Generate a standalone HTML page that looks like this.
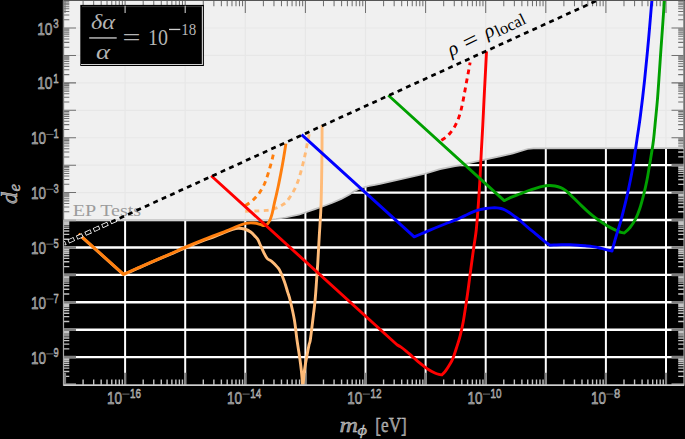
<!DOCTYPE html>
<html><head><meta charset="utf-8"><style>
html,body{margin:0;padding:0;background:#000;width:685px;height:439px;overflow:hidden;}
svg{display:block;font-family:"Liberation Sans",sans-serif;}
</style></head><body>
<svg width="685" height="439" viewBox="0 0 685 439">
<defs>
<clipPath id="cg"><path d="M63.5,0.5 L63.5,220 L268,220 L276,219 L285.6,217.5 L298.8,214.7 L307.5,211.8 L315,209.1 L323.8,206 L332.5,202.8 L341.3,198.9 L350,194.2 L354.4,191.1 L358.8,188.9 L364,187.2 L369.3,185.9 L375,184.9 L380,183.9 L425,173.8 L440,169.2 L460,165.2 L480,160.6 L500,156.3 L513,153.4 L521.8,150.8 L527.6,149 L533.4,148.4 L684,148.2 L684,0.5 Z"/></clipPath>
<clipPath id="cb"><path d="M63.5,385.2 L63.5,220 L268,220 L276,219 L285.6,217.5 L298.8,214.7 L307.5,211.8 L315,209.1 L323.8,206 L332.5,202.8 L341.3,198.9 L350,194.2 L354.4,191.1 L358.8,188.9 L364,187.2 L369.3,185.9 L375,184.9 L380,183.9 L425,173.8 L440,169.2 L460,165.2 L480,160.6 L500,156.3 L513,153.4 L521.8,150.8 L527.6,149 L533.4,148.4 L684,148.2 L684,385.2 Z"/></clipPath>
<clipPath id="cp"><rect x="63.5" y="0.5" width="620.5" height="384.7"/></clipPath>
</defs>
<rect width="685" height="439" fill="#000"/>
<path d="M125.1,0.5 V385.2 M185.2,0.5 V385.2 M245.3,0.5 V385.2 M305.4,0.5 V385.2 M365.5,0.5 V385.2 M425.6,0.5 V385.2 M485.7,0.5 V385.2 M545.8,0.5 V385.2 M605.9,0.5 V385.2 M666,0.5 V385.2" stroke="#fff" stroke-width="2" fill="none"/>
<path d="M63.5,357.17 H684 M63.5,329.74 H684 M63.5,302.31 H684 M63.5,274.88 H684 M63.5,247.45 H684 M63.5,220.02 H684 M63.5,192.59 H684 M63.5,165.16 H684 M63.5,137.73 H684 M63.5,110.3 H684 M63.5,82.87 H684 M63.5,55.44 H684 M63.5,28.01 H684" stroke="#fff" stroke-width="2.4" fill="none"/>
<g clip-path="url(#cb)" fill="none">
<path d="M83.09,385.2 V379.4 M83.09,0.5 V6.3 M93.67,385.2 V379.4 M93.67,0.5 V6.3 M101.18,385.2 V379.4 M101.18,0.5 V6.3 M107.01,385.2 V379.4 M107.01,0.5 V6.3 M111.77,385.2 V379.4 M111.77,0.5 V6.3 M115.79,385.2 V379.4 M115.79,0.5 V6.3 M119.28,385.2 V379.4 M119.28,0.5 V6.3 M122.35,385.2 V379.4 M122.35,0.5 V6.3 M143.19,385.2 V379.4 M143.19,0.5 V6.3 M153.77,385.2 V379.4 M153.77,0.5 V6.3 M161.28,385.2 V379.4 M161.28,0.5 V6.3 M167.11,385.2 V379.4 M167.11,0.5 V6.3 M171.87,385.2 V379.4 M171.87,0.5 V6.3 M175.89,385.2 V379.4 M175.89,0.5 V6.3 M179.38,385.2 V379.4 M179.38,0.5 V6.3 M182.45,385.2 V379.4 M182.45,0.5 V6.3 M203.29,385.2 V379.4 M203.29,0.5 V6.3 M213.87,385.2 V379.4 M213.87,0.5 V6.3 M221.38,385.2 V379.4 M221.38,0.5 V6.3 M227.21,385.2 V379.4 M227.21,0.5 V6.3 M231.97,385.2 V379.4 M231.97,0.5 V6.3 M235.99,385.2 V379.4 M235.99,0.5 V6.3 M239.48,385.2 V379.4 M239.48,0.5 V6.3 M242.55,385.2 V379.4 M242.55,0.5 V6.3 M263.39,385.2 V379.4 M263.39,0.5 V6.3 M273.97,385.2 V379.4 M273.97,0.5 V6.3 M281.48,385.2 V379.4 M281.48,0.5 V6.3 M287.31,385.2 V379.4 M287.31,0.5 V6.3 M292.07,385.2 V379.4 M292.07,0.5 V6.3 M296.09,385.2 V379.4 M296.09,0.5 V6.3 M299.58,385.2 V379.4 M299.58,0.5 V6.3 M302.65,385.2 V379.4 M302.65,0.5 V6.3 M323.49,385.2 V379.4 M323.49,0.5 V6.3 M334.07,385.2 V379.4 M334.07,0.5 V6.3 M341.58,385.2 V379.4 M341.58,0.5 V6.3 M347.41,385.2 V379.4 M347.41,0.5 V6.3 M352.17,385.2 V379.4 M352.17,0.5 V6.3 M356.19,385.2 V379.4 M356.19,0.5 V6.3 M359.68,385.2 V379.4 M359.68,0.5 V6.3 M362.75,385.2 V379.4 M362.75,0.5 V6.3 M383.59,385.2 V379.4 M383.59,0.5 V6.3 M394.17,385.2 V379.4 M394.17,0.5 V6.3 M401.68,385.2 V379.4 M401.68,0.5 V6.3 M407.51,385.2 V379.4 M407.51,0.5 V6.3 M412.27,385.2 V379.4 M412.27,0.5 V6.3 M416.29,385.2 V379.4 M416.29,0.5 V6.3 M419.78,385.2 V379.4 M419.78,0.5 V6.3 M422.85,385.2 V379.4 M422.85,0.5 V6.3 M443.69,385.2 V379.4 M443.69,0.5 V6.3 M454.27,385.2 V379.4 M454.27,0.5 V6.3 M461.78,385.2 V379.4 M461.78,0.5 V6.3 M467.61,385.2 V379.4 M467.61,0.5 V6.3 M472.37,385.2 V379.4 M472.37,0.5 V6.3 M476.39,385.2 V379.4 M476.39,0.5 V6.3 M479.88,385.2 V379.4 M479.88,0.5 V6.3 M482.95,385.2 V379.4 M482.95,0.5 V6.3 M503.79,385.2 V379.4 M503.79,0.5 V6.3 M514.37,385.2 V379.4 M514.37,0.5 V6.3 M521.88,385.2 V379.4 M521.88,0.5 V6.3 M527.71,385.2 V379.4 M527.71,0.5 V6.3 M532.47,385.2 V379.4 M532.47,0.5 V6.3 M536.49,385.2 V379.4 M536.49,0.5 V6.3 M539.98,385.2 V379.4 M539.98,0.5 V6.3 M543.05,385.2 V379.4 M543.05,0.5 V6.3 M563.89,385.2 V379.4 M563.89,0.5 V6.3 M574.47,385.2 V379.4 M574.47,0.5 V6.3 M581.98,385.2 V379.4 M581.98,0.5 V6.3 M587.81,385.2 V379.4 M587.81,0.5 V6.3 M592.57,385.2 V379.4 M592.57,0.5 V6.3 M596.59,385.2 V379.4 M596.59,0.5 V6.3 M600.08,385.2 V379.4 M600.08,0.5 V6.3 M603.15,385.2 V379.4 M603.15,0.5 V6.3 M623.99,385.2 V379.4 M623.99,0.5 V6.3 M634.57,385.2 V379.4 M634.57,0.5 V6.3 M642.08,385.2 V379.4 M642.08,0.5 V6.3 M647.91,385.2 V379.4 M647.91,0.5 V6.3 M652.67,385.2 V379.4 M652.67,0.5 V6.3 M656.69,385.2 V379.4 M656.69,0.5 V6.3 M660.18,385.2 V379.4 M660.18,0.5 V6.3 M663.25,385.2 V379.4 M663.25,0.5 V6.3 M63.5,376.34 H69.3 M684,376.34 H678.2 M63.5,371.51 H69.3 M684,371.51 H678.2 M63.5,368.09 H69.3 M684,368.09 H678.2 M63.5,365.43 H69.3 M684,365.43 H678.2 M63.5,363.26 H69.3 M684,363.26 H678.2 M63.5,361.42 H69.3 M684,361.42 H678.2 M63.5,359.83 H69.3 M684,359.83 H678.2 M63.5,358.43 H69.3 M684,358.43 H678.2 M63.5,348.91 H69.3 M684,348.91 H678.2 M63.5,344.08 H69.3 M684,344.08 H678.2 M63.5,340.66 H69.3 M684,340.66 H678.2 M63.5,338 H69.3 M684,338 H678.2 M63.5,335.83 H69.3 M684,335.83 H678.2 M63.5,333.99 H69.3 M684,333.99 H678.2 M63.5,332.4 H69.3 M684,332.4 H678.2 M63.5,331 H69.3 M684,331 H678.2 M63.5,321.48 H69.3 M684,321.48 H678.2 M63.5,316.65 H69.3 M684,316.65 H678.2 M63.5,313.23 H69.3 M684,313.23 H678.2 M63.5,310.57 H69.3 M684,310.57 H678.2 M63.5,308.4 H69.3 M684,308.4 H678.2 M63.5,306.56 H69.3 M684,306.56 H678.2 M63.5,304.97 H69.3 M684,304.97 H678.2 M63.5,303.57 H69.3 M684,303.57 H678.2 M63.5,294.05 H69.3 M684,294.05 H678.2 M63.5,289.22 H69.3 M684,289.22 H678.2 M63.5,285.8 H69.3 M684,285.8 H678.2 M63.5,283.14 H69.3 M684,283.14 H678.2 M63.5,280.97 H69.3 M684,280.97 H678.2 M63.5,279.13 H69.3 M684,279.13 H678.2 M63.5,277.54 H69.3 M684,277.54 H678.2 M63.5,276.14 H69.3 M684,276.14 H678.2 M63.5,266.62 H69.3 M684,266.62 H678.2 M63.5,261.79 H69.3 M684,261.79 H678.2 M63.5,258.37 H69.3 M684,258.37 H678.2 M63.5,255.71 H69.3 M684,255.71 H678.2 M63.5,253.54 H69.3 M684,253.54 H678.2 M63.5,251.7 H69.3 M684,251.7 H678.2 M63.5,250.11 H69.3 M684,250.11 H678.2 M63.5,248.71 H69.3 M684,248.71 H678.2 M63.5,239.19 H69.3 M684,239.19 H678.2 M63.5,234.36 H69.3 M684,234.36 H678.2 M63.5,230.94 H69.3 M684,230.94 H678.2 M63.5,228.28 H69.3 M684,228.28 H678.2 M63.5,226.11 H69.3 M684,226.11 H678.2 M63.5,224.27 H69.3 M684,224.27 H678.2 M63.5,222.68 H69.3 M684,222.68 H678.2 M63.5,221.28 H69.3 M684,221.28 H678.2 M63.5,211.76 H69.3 M684,211.76 H678.2 M63.5,206.93 H69.3 M684,206.93 H678.2 M63.5,203.51 H69.3 M684,203.51 H678.2 M63.5,200.85 H69.3 M684,200.85 H678.2 M63.5,198.68 H69.3 M684,198.68 H678.2 M63.5,196.84 H69.3 M684,196.84 H678.2 M63.5,195.25 H69.3 M684,195.25 H678.2 M63.5,193.85 H69.3 M684,193.85 H678.2 M63.5,184.33 H69.3 M684,184.33 H678.2 M63.5,179.5 H69.3 M684,179.5 H678.2 M63.5,176.08 H69.3 M684,176.08 H678.2 M63.5,173.42 H69.3 M684,173.42 H678.2 M63.5,171.25 H69.3 M684,171.25 H678.2 M63.5,169.41 H69.3 M684,169.41 H678.2 M63.5,167.82 H69.3 M684,167.82 H678.2 M63.5,166.42 H69.3 M684,166.42 H678.2 M63.5,156.9 H69.3 M684,156.9 H678.2 M63.5,152.07 H69.3 M684,152.07 H678.2 M63.5,148.65 H69.3 M684,148.65 H678.2 M63.5,145.99 H69.3 M684,145.99 H678.2 M63.5,143.82 H69.3 M684,143.82 H678.2 M63.5,141.98 H69.3 M684,141.98 H678.2 M63.5,140.39 H69.3 M684,140.39 H678.2 M63.5,138.99 H69.3 M684,138.99 H678.2 M63.5,129.47 H69.3 M684,129.47 H678.2 M63.5,124.64 H69.3 M684,124.64 H678.2 M63.5,121.22 H69.3 M684,121.22 H678.2 M63.5,118.56 H69.3 M684,118.56 H678.2 M63.5,116.39 H69.3 M684,116.39 H678.2 M63.5,114.55 H69.3 M684,114.55 H678.2 M63.5,112.96 H69.3 M684,112.96 H678.2 M63.5,111.56 H69.3 M684,111.56 H678.2 M63.5,102.04 H69.3 M684,102.04 H678.2 M63.5,97.21 H69.3 M684,97.21 H678.2 M63.5,93.79 H69.3 M684,93.79 H678.2 M63.5,91.13 H69.3 M684,91.13 H678.2 M63.5,88.96 H69.3 M684,88.96 H678.2 M63.5,87.12 H69.3 M684,87.12 H678.2 M63.5,85.53 H69.3 M684,85.53 H678.2 M63.5,84.13 H69.3 M684,84.13 H678.2 M63.5,74.61 H69.3 M684,74.61 H678.2 M63.5,69.78 H69.3 M684,69.78 H678.2 M63.5,66.36 H69.3 M684,66.36 H678.2 M63.5,63.7 H69.3 M684,63.7 H678.2 M63.5,61.53 H69.3 M684,61.53 H678.2 M63.5,59.69 H69.3 M684,59.69 H678.2 M63.5,58.1 H69.3 M684,58.1 H678.2 M63.5,56.7 H69.3 M684,56.7 H678.2 M63.5,47.18 H69.3 M684,47.18 H678.2 M63.5,42.35 H69.3 M684,42.35 H678.2 M63.5,38.93 H69.3 M684,38.93 H678.2 M63.5,36.27 H69.3 M684,36.27 H678.2 M63.5,34.1 H69.3 M684,34.1 H678.2 M63.5,32.26 H69.3 M684,32.26 H678.2 M63.5,30.67 H69.3 M684,30.67 H678.2 M63.5,29.27 H69.3 M684,29.27 H678.2 M63.5,19.75 H69.3 M684,19.75 H678.2 M63.5,14.92 H69.3 M684,14.92 H678.2 M63.5,11.5 H69.3 M684,11.5 H678.2 M63.5,8.84 H69.3 M684,8.84 H678.2 M63.5,6.67 H69.3 M684,6.67 H678.2 M63.5,4.83 H69.3 M684,4.83 H678.2 M63.5,3.24 H69.3 M684,3.24 H678.2 M63.5,1.84 H69.3 M684,1.84 H678.2" stroke="#c4c4c4" stroke-width="1.4"/>
<path d="M65,385.2 V372.7 M65,0.5 V13 M125.1,385.2 V372.7 M125.1,0.5 V13 M185.2,385.2 V372.7 M185.2,0.5 V13 M245.3,385.2 V372.7 M245.3,0.5 V13 M305.4,385.2 V372.7 M305.4,0.5 V13 M365.5,385.2 V372.7 M365.5,0.5 V13 M425.6,385.2 V372.7 M425.6,0.5 V13 M485.7,385.2 V372.7 M485.7,0.5 V13 M545.8,385.2 V372.7 M545.8,0.5 V13 M605.9,385.2 V372.7 M605.9,0.5 V13 M666,385.2 V372.7 M666,0.5 V13" stroke="#808080" stroke-width="2.2"/>
<path d="M63.5,384.6 H76 M684,384.6 H671.5 M63.5,357.17 H76 M684,357.17 H671.5 M63.5,329.74 H76 M684,329.74 H671.5 M63.5,302.31 H76 M684,302.31 H671.5 M63.5,274.88 H76 M684,274.88 H671.5 M63.5,247.45 H76 M684,247.45 H671.5 M63.5,220.02 H76 M684,220.02 H671.5 M63.5,192.59 H76 M684,192.59 H671.5 M63.5,165.16 H76 M684,165.16 H671.5 M63.5,137.73 H76 M684,137.73 H671.5 M63.5,110.3 H76 M684,110.3 H671.5 M63.5,82.87 H76 M684,82.87 H671.5 M63.5,55.44 H76 M684,55.44 H671.5 M63.5,28.01 H76 M684,28.01 H671.5 M63.5,0.58 H76 M684,0.58 H671.5" stroke="#808080" stroke-width="2.6"/>
</g>
<path d="M63.5,0.5 L63.5,220 L268,220 L276,219 L285.6,217.5 L298.8,214.7 L307.5,211.8 L315,209.1 L323.8,206 L332.5,202.8 L341.3,198.9 L350,194.2 L354.4,191.1 L358.8,188.9 L364,187.2 L369.3,185.9 L375,184.9 L380,183.9 L425,173.8 L440,169.2 L460,165.2 L480,160.6 L500,156.3 L513,153.4 L521.8,150.8 L527.6,149 L533.4,148.4 L684,148.2 L684,0.5 Z" fill="#f0f0f0"/>
<g clip-path="url(#cg)">
<path d="M125.1,0.5 V385.2 M185.2,0.5 V385.2 M245.3,0.5 V385.2 M305.4,0.5 V385.2 M365.5,0.5 V385.2 M425.6,0.5 V385.2 M485.7,0.5 V385.2 M545.8,0.5 V385.2 M605.9,0.5 V385.2 M666,0.5 V385.2 M63.5,357.17 H684 M63.5,329.74 H684 M63.5,302.31 H684 M63.5,274.88 H684 M63.5,247.45 H684 M63.5,220.02 H684 M63.5,192.59 H684 M63.5,165.16 H684 M63.5,137.73 H684 M63.5,110.3 H684 M63.5,82.87 H684 M63.5,55.44 H684 M63.5,28.01 H684" stroke="#e7e7e7" stroke-width="1.2" fill="none"/>
<path d="M65,385.2 V372.7 M65,0.5 V13 M125.1,385.2 V372.7 M125.1,0.5 V13 M185.2,385.2 V372.7 M185.2,0.5 V13 M245.3,385.2 V372.7 M245.3,0.5 V13 M305.4,385.2 V372.7 M305.4,0.5 V13 M365.5,385.2 V372.7 M365.5,0.5 V13 M425.6,385.2 V372.7 M425.6,0.5 V13 M485.7,385.2 V372.7 M485.7,0.5 V13 M545.8,385.2 V372.7 M545.8,0.5 V13 M605.9,385.2 V372.7 M605.9,0.5 V13 M666,385.2 V372.7 M666,0.5 V13 M83.09,385.2 V379.4 M83.09,0.5 V6.3 M93.67,385.2 V379.4 M93.67,0.5 V6.3 M101.18,385.2 V379.4 M101.18,0.5 V6.3 M107.01,385.2 V379.4 M107.01,0.5 V6.3 M111.77,385.2 V379.4 M111.77,0.5 V6.3 M115.79,385.2 V379.4 M115.79,0.5 V6.3 M119.28,385.2 V379.4 M119.28,0.5 V6.3 M122.35,385.2 V379.4 M122.35,0.5 V6.3 M143.19,385.2 V379.4 M143.19,0.5 V6.3 M153.77,385.2 V379.4 M153.77,0.5 V6.3 M161.28,385.2 V379.4 M161.28,0.5 V6.3 M167.11,385.2 V379.4 M167.11,0.5 V6.3 M171.87,385.2 V379.4 M171.87,0.5 V6.3 M175.89,385.2 V379.4 M175.89,0.5 V6.3 M179.38,385.2 V379.4 M179.38,0.5 V6.3 M182.45,385.2 V379.4 M182.45,0.5 V6.3 M203.29,385.2 V379.4 M203.29,0.5 V6.3 M213.87,385.2 V379.4 M213.87,0.5 V6.3 M221.38,385.2 V379.4 M221.38,0.5 V6.3 M227.21,385.2 V379.4 M227.21,0.5 V6.3 M231.97,385.2 V379.4 M231.97,0.5 V6.3 M235.99,385.2 V379.4 M235.99,0.5 V6.3 M239.48,385.2 V379.4 M239.48,0.5 V6.3 M242.55,385.2 V379.4 M242.55,0.5 V6.3 M263.39,385.2 V379.4 M263.39,0.5 V6.3 M273.97,385.2 V379.4 M273.97,0.5 V6.3 M281.48,385.2 V379.4 M281.48,0.5 V6.3 M287.31,385.2 V379.4 M287.31,0.5 V6.3 M292.07,385.2 V379.4 M292.07,0.5 V6.3 M296.09,385.2 V379.4 M296.09,0.5 V6.3 M299.58,385.2 V379.4 M299.58,0.5 V6.3 M302.65,385.2 V379.4 M302.65,0.5 V6.3 M323.49,385.2 V379.4 M323.49,0.5 V6.3 M334.07,385.2 V379.4 M334.07,0.5 V6.3 M341.58,385.2 V379.4 M341.58,0.5 V6.3 M347.41,385.2 V379.4 M347.41,0.5 V6.3 M352.17,385.2 V379.4 M352.17,0.5 V6.3 M356.19,385.2 V379.4 M356.19,0.5 V6.3 M359.68,385.2 V379.4 M359.68,0.5 V6.3 M362.75,385.2 V379.4 M362.75,0.5 V6.3 M383.59,385.2 V379.4 M383.59,0.5 V6.3 M394.17,385.2 V379.4 M394.17,0.5 V6.3 M401.68,385.2 V379.4 M401.68,0.5 V6.3 M407.51,385.2 V379.4 M407.51,0.5 V6.3 M412.27,385.2 V379.4 M412.27,0.5 V6.3 M416.29,385.2 V379.4 M416.29,0.5 V6.3 M419.78,385.2 V379.4 M419.78,0.5 V6.3 M422.85,385.2 V379.4 M422.85,0.5 V6.3 M443.69,385.2 V379.4 M443.69,0.5 V6.3 M454.27,385.2 V379.4 M454.27,0.5 V6.3 M461.78,385.2 V379.4 M461.78,0.5 V6.3 M467.61,385.2 V379.4 M467.61,0.5 V6.3 M472.37,385.2 V379.4 M472.37,0.5 V6.3 M476.39,385.2 V379.4 M476.39,0.5 V6.3 M479.88,385.2 V379.4 M479.88,0.5 V6.3 M482.95,385.2 V379.4 M482.95,0.5 V6.3 M503.79,385.2 V379.4 M503.79,0.5 V6.3 M514.37,385.2 V379.4 M514.37,0.5 V6.3 M521.88,385.2 V379.4 M521.88,0.5 V6.3 M527.71,385.2 V379.4 M527.71,0.5 V6.3 M532.47,385.2 V379.4 M532.47,0.5 V6.3 M536.49,385.2 V379.4 M536.49,0.5 V6.3 M539.98,385.2 V379.4 M539.98,0.5 V6.3 M543.05,385.2 V379.4 M543.05,0.5 V6.3 M563.89,385.2 V379.4 M563.89,0.5 V6.3 M574.47,385.2 V379.4 M574.47,0.5 V6.3 M581.98,385.2 V379.4 M581.98,0.5 V6.3 M587.81,385.2 V379.4 M587.81,0.5 V6.3 M592.57,385.2 V379.4 M592.57,0.5 V6.3 M596.59,385.2 V379.4 M596.59,0.5 V6.3 M600.08,385.2 V379.4 M600.08,0.5 V6.3 M603.15,385.2 V379.4 M603.15,0.5 V6.3 M623.99,385.2 V379.4 M623.99,0.5 V6.3 M634.57,385.2 V379.4 M634.57,0.5 V6.3 M642.08,385.2 V379.4 M642.08,0.5 V6.3 M647.91,385.2 V379.4 M647.91,0.5 V6.3 M652.67,385.2 V379.4 M652.67,0.5 V6.3 M656.69,385.2 V379.4 M656.69,0.5 V6.3 M660.18,385.2 V379.4 M660.18,0.5 V6.3 M663.25,385.2 V379.4 M663.25,0.5 V6.3 M63.5,384.6 H76 M684,384.6 H671.5 M63.5,357.17 H76 M684,357.17 H671.5 M63.5,329.74 H76 M684,329.74 H671.5 M63.5,302.31 H76 M684,302.31 H671.5 M63.5,274.88 H76 M684,274.88 H671.5 M63.5,247.45 H76 M684,247.45 H671.5 M63.5,220.02 H76 M684,220.02 H671.5 M63.5,192.59 H76 M684,192.59 H671.5 M63.5,165.16 H76 M684,165.16 H671.5 M63.5,137.73 H76 M684,137.73 H671.5 M63.5,110.3 H76 M684,110.3 H671.5 M63.5,82.87 H76 M684,82.87 H671.5 M63.5,55.44 H76 M684,55.44 H671.5 M63.5,28.01 H76 M684,28.01 H671.5 M63.5,0.58 H76 M684,0.58 H671.5 M63.5,376.34 H69.3 M684,376.34 H678.2 M63.5,371.51 H69.3 M684,371.51 H678.2 M63.5,368.09 H69.3 M684,368.09 H678.2 M63.5,365.43 H69.3 M684,365.43 H678.2 M63.5,363.26 H69.3 M684,363.26 H678.2 M63.5,361.42 H69.3 M684,361.42 H678.2 M63.5,359.83 H69.3 M684,359.83 H678.2 M63.5,358.43 H69.3 M684,358.43 H678.2 M63.5,348.91 H69.3 M684,348.91 H678.2 M63.5,344.08 H69.3 M684,344.08 H678.2 M63.5,340.66 H69.3 M684,340.66 H678.2 M63.5,338 H69.3 M684,338 H678.2 M63.5,335.83 H69.3 M684,335.83 H678.2 M63.5,333.99 H69.3 M684,333.99 H678.2 M63.5,332.4 H69.3 M684,332.4 H678.2 M63.5,331 H69.3 M684,331 H678.2 M63.5,321.48 H69.3 M684,321.48 H678.2 M63.5,316.65 H69.3 M684,316.65 H678.2 M63.5,313.23 H69.3 M684,313.23 H678.2 M63.5,310.57 H69.3 M684,310.57 H678.2 M63.5,308.4 H69.3 M684,308.4 H678.2 M63.5,306.56 H69.3 M684,306.56 H678.2 M63.5,304.97 H69.3 M684,304.97 H678.2 M63.5,303.57 H69.3 M684,303.57 H678.2 M63.5,294.05 H69.3 M684,294.05 H678.2 M63.5,289.22 H69.3 M684,289.22 H678.2 M63.5,285.8 H69.3 M684,285.8 H678.2 M63.5,283.14 H69.3 M684,283.14 H678.2 M63.5,280.97 H69.3 M684,280.97 H678.2 M63.5,279.13 H69.3 M684,279.13 H678.2 M63.5,277.54 H69.3 M684,277.54 H678.2 M63.5,276.14 H69.3 M684,276.14 H678.2 M63.5,266.62 H69.3 M684,266.62 H678.2 M63.5,261.79 H69.3 M684,261.79 H678.2 M63.5,258.37 H69.3 M684,258.37 H678.2 M63.5,255.71 H69.3 M684,255.71 H678.2 M63.5,253.54 H69.3 M684,253.54 H678.2 M63.5,251.7 H69.3 M684,251.7 H678.2 M63.5,250.11 H69.3 M684,250.11 H678.2 M63.5,248.71 H69.3 M684,248.71 H678.2 M63.5,239.19 H69.3 M684,239.19 H678.2 M63.5,234.36 H69.3 M684,234.36 H678.2 M63.5,230.94 H69.3 M684,230.94 H678.2 M63.5,228.28 H69.3 M684,228.28 H678.2 M63.5,226.11 H69.3 M684,226.11 H678.2 M63.5,224.27 H69.3 M684,224.27 H678.2 M63.5,222.68 H69.3 M684,222.68 H678.2 M63.5,221.28 H69.3 M684,221.28 H678.2 M63.5,211.76 H69.3 M684,211.76 H678.2 M63.5,206.93 H69.3 M684,206.93 H678.2 M63.5,203.51 H69.3 M684,203.51 H678.2 M63.5,200.85 H69.3 M684,200.85 H678.2 M63.5,198.68 H69.3 M684,198.68 H678.2 M63.5,196.84 H69.3 M684,196.84 H678.2 M63.5,195.25 H69.3 M684,195.25 H678.2 M63.5,193.85 H69.3 M684,193.85 H678.2 M63.5,184.33 H69.3 M684,184.33 H678.2 M63.5,179.5 H69.3 M684,179.5 H678.2 M63.5,176.08 H69.3 M684,176.08 H678.2 M63.5,173.42 H69.3 M684,173.42 H678.2 M63.5,171.25 H69.3 M684,171.25 H678.2 M63.5,169.41 H69.3 M684,169.41 H678.2 M63.5,167.82 H69.3 M684,167.82 H678.2 M63.5,166.42 H69.3 M684,166.42 H678.2 M63.5,156.9 H69.3 M684,156.9 H678.2 M63.5,152.07 H69.3 M684,152.07 H678.2 M63.5,148.65 H69.3 M684,148.65 H678.2 M63.5,145.99 H69.3 M684,145.99 H678.2 M63.5,143.82 H69.3 M684,143.82 H678.2 M63.5,141.98 H69.3 M684,141.98 H678.2 M63.5,140.39 H69.3 M684,140.39 H678.2 M63.5,138.99 H69.3 M684,138.99 H678.2 M63.5,129.47 H69.3 M684,129.47 H678.2 M63.5,124.64 H69.3 M684,124.64 H678.2 M63.5,121.22 H69.3 M684,121.22 H678.2 M63.5,118.56 H69.3 M684,118.56 H678.2 M63.5,116.39 H69.3 M684,116.39 H678.2 M63.5,114.55 H69.3 M684,114.55 H678.2 M63.5,112.96 H69.3 M684,112.96 H678.2 M63.5,111.56 H69.3 M684,111.56 H678.2 M63.5,102.04 H69.3 M684,102.04 H678.2 M63.5,97.21 H69.3 M684,97.21 H678.2 M63.5,93.79 H69.3 M684,93.79 H678.2 M63.5,91.13 H69.3 M684,91.13 H678.2 M63.5,88.96 H69.3 M684,88.96 H678.2 M63.5,87.12 H69.3 M684,87.12 H678.2 M63.5,85.53 H69.3 M684,85.53 H678.2 M63.5,84.13 H69.3 M684,84.13 H678.2 M63.5,74.61 H69.3 M684,74.61 H678.2 M63.5,69.78 H69.3 M684,69.78 H678.2 M63.5,66.36 H69.3 M684,66.36 H678.2 M63.5,63.7 H69.3 M684,63.7 H678.2 M63.5,61.53 H69.3 M684,61.53 H678.2 M63.5,59.69 H69.3 M684,59.69 H678.2 M63.5,58.1 H69.3 M684,58.1 H678.2 M63.5,56.7 H69.3 M684,56.7 H678.2 M63.5,47.18 H69.3 M684,47.18 H678.2 M63.5,42.35 H69.3 M684,42.35 H678.2 M63.5,38.93 H69.3 M684,38.93 H678.2 M63.5,36.27 H69.3 M684,36.27 H678.2 M63.5,34.1 H69.3 M684,34.1 H678.2 M63.5,32.26 H69.3 M684,32.26 H678.2 M63.5,30.67 H69.3 M684,30.67 H678.2 M63.5,29.27 H69.3 M684,29.27 H678.2 M63.5,19.75 H69.3 M684,19.75 H678.2 M63.5,14.92 H69.3 M684,14.92 H678.2 M63.5,11.5 H69.3 M684,11.5 H678.2 M63.5,8.84 H69.3 M684,8.84 H678.2 M63.5,6.67 H69.3 M684,6.67 H678.2 M63.5,4.83 H69.3 M684,4.83 H678.2 M63.5,3.24 H69.3 M684,3.24 H678.2 M63.5,1.84 H69.3 M684,1.84 H678.2" stroke="#707070" stroke-width="1.05" fill="none"/>
</g>
<path d="M63.5,220 L268,220 L276,219 L285.6,217.5 L298.8,214.7 L307.5,211.8 L315,209.1 L323.8,206 L332.5,202.8 L341.3,198.9 L350,194.2 L354.4,191.1 L358.8,188.9 L364,187.2 L369.3,185.9 L375,184.9 L380,183.9 L425,173.8 L440,169.2 L460,165.2 L480,160.6 L500,156.3 L513,153.4 L521.8,150.8 L527.6,149 L533.4,148.4 L684,148.2" stroke="#c2c2c2" stroke-width="1.7" fill="none"/>
<text x="72.8" y="216.1" font-family="Liberation Serif" font-size="17.5" fill="#9c9c9c" textLength="68.4" lengthAdjust="spacingAndGlyphs">EP Tests</text>
<g clip-path="url(#cp)" fill="none" stroke-linejoin="round">
<path d="M78.6,234.2 L123.6,274.6 L123.6,274.6 C126,273.53 133.6,270.15 138,268.2 C142.4,266.25 144.67,265.2 150,262.9 C155.33,260.6 164.3,256.83 170,254.4 C175.7,251.97 178.37,250.7 184.2,248.3 C190.03,245.9 199.87,241.98 205,240 C210.13,238.02 211.52,237.73 215,236.4 C218.48,235.07 223.07,233.13 225.9,232 C228.73,230.87 229.98,230.23 232,229.6 C234.02,228.97 235.93,228.3 238,228.2 C240.07,228.1 242.28,228.37 244.4,229 C246.52,229.63 248.85,230.7 250.7,232 C252.55,233.3 254.28,235.5 255.5,236.8 C256.72,238.1 257.2,238.43 258,239.8 C258.8,241.17 259.35,242.92 260.3,245 C261.25,247.08 262.57,250.07 263.7,252.3 C264.83,254.53 265.77,256.88 267.1,258.4 C268.43,259.92 269.98,259.95 271.7,261.4 C273.42,262.85 276.08,265.63 277.4,267.1 C278.72,268.57 278.47,267.9 279.6,270.2 C280.73,272.5 282.87,277.28 284.2,280.9 C285.53,284.52 286.6,288.63 287.6,291.9 C288.6,295.17 289.07,295.82 290.2,300.5 C291.33,305.18 293.27,313.42 294.4,320 C295.53,326.58 296.13,333.83 297,340 C297.87,346.17 298.88,352 299.6,357 C300.32,362 300.87,366.17 301.3,370 C301.73,373.83 301.97,377.17 302.2,380 C302.43,382.83 302.62,385.83 302.7,387 L302.7,387 C302.83,385.83 303.2,382.83 303.5,380 C303.8,377.17 303.97,373.83 304.5,370 C305.03,366.17 305.95,361.17 306.7,357 C307.45,352.83 308.4,347.83 309,345 C309.6,342.17 309.67,344.17 310.3,340 C310.93,335.83 312,326.67 312.8,320 C313.6,313.33 314.47,306.67 315.1,300 C315.73,293.33 316.15,286.22 316.6,280 C317.05,273.78 317.35,270.12 317.8,262.7 C318.25,255.28 318.78,244.58 319.3,235.5 C319.82,226.42 320.52,217.45 320.9,208.2 C321.28,198.95 321.42,189.7 321.6,180 C321.78,170.3 321.92,159.17 322,150 C322.08,140.83 322.08,129.17 322.1,125" stroke="#ffbb78" stroke-width="2.9"/>
<path d="M245.2,211.2 C246.83,211.17 251.53,211.13 255,211 C258.47,210.87 263.17,210.67 266,210.4 C268.83,210.13 270,209.9 272,209.4 C274,208.9 276.33,208.12 278,207.4 C279.67,206.68 280.65,205.97 282,205.1 C283.35,204.23 284.72,203.63 286.1,202.2 C287.48,200.77 288.97,198.5 290.3,196.5 C291.63,194.5 292.9,192.53 294.1,190.2 C295.3,187.87 296.48,185.17 297.5,182.5 C298.52,179.83 299.32,177.2 300.2,174.2 C301.08,171.2 301.97,167.85 302.8,164.5 C303.63,161.15 304.45,157.6 305.2,154.1 C305.95,150.6 306.73,146.32 307.3,143.5 C307.87,140.68 308.28,138.75 308.6,137.2 C308.92,135.65 309.1,134.7 309.2,134.2" stroke="#ffbb78" stroke-width="2.9" stroke-dasharray="4.9 4.3"/>
<path d="M245.2,205.6 C246.17,204.97 249.28,203.13 251,201.8 C252.72,200.47 254.17,198.98 255.5,197.6 C256.83,196.22 257.95,194.93 259,193.5 C260.05,192.07 260.93,190.5 261.8,189 C262.67,187.5 263.5,186 264.2,184.5 C264.9,183 265.37,181.75 266,180 C266.63,178.25 267.37,176 268,174 C268.63,172 269.2,170.08 269.8,168 C270.4,165.92 271.03,163.67 271.6,161.5 C272.17,159.33 272.8,156.67 273.2,155 C273.6,153.33 273.87,152.08 274,151.5" stroke="#ff7f0e" stroke-width="2.9" stroke-dasharray="4.9 4.3"/>
<path d="M78.6,233.9 L123.6,274.3 L123.6,274.3 C126,273.23 133.6,269.85 138,267.9 C142.4,265.95 144.67,264.92 150,262.6 C155.33,260.28 164.3,256.48 170,254 C175.7,251.52 178.37,250.17 184.2,247.7 C190.03,245.23 198.05,241.95 205,239.2 C211.95,236.45 220.4,233.4 225.9,231.2 C231.4,229 234.65,227.32 238,226 C241.35,224.68 243.35,223.8 246,223.3 C248.65,222.8 251.52,222.82 253.9,223 C256.28,223.18 258.62,223.97 260.3,224.4 C261.98,224.83 262.83,225.63 264,225.6 C265.17,225.57 266.27,225.22 267.3,224.2 C268.33,223.18 269.37,221.37 270.2,219.5 C271.03,217.63 271.63,215.58 272.3,213 C272.97,210.42 273.53,207 274.2,204 C274.87,201 275.62,198 276.3,195 C276.98,192 277.63,189.17 278.3,186 C278.97,182.83 279.67,179.23 280.3,176 C280.93,172.77 281.48,170.02 282.1,166.6 C282.72,163.18 283.42,159.02 284,155.5 C284.58,151.98 285.28,147.48 285.6,145.5 C285.92,143.52 285.85,143.92 285.9,143.6" stroke="#ff7f0e" stroke-width="2.9"/>
<path d="M211.2,175.7 L397,344.8 L397,344.8 C397.62,345.15 399.13,345.82 400.7,346.9 C402.27,347.98 404.5,349.73 406.4,351.3 C408.3,352.87 410.2,354.63 412.1,356.3 C414,357.97 415.9,359.72 417.8,361.3 C419.7,362.88 421.6,364.35 423.5,365.8 C425.4,367.25 427.3,368.8 429.2,370 C431.1,371.2 433.27,372.27 434.9,373 C436.53,373.73 437.83,374.08 439,374.4 C440.17,374.72 441.42,374.82 441.9,374.9 L441.9,374.9 C442.42,374.35 444.03,372.78 445,371.6 C445.97,370.42 446.45,369.85 447.7,367.8 C448.95,365.75 451.02,362.68 452.5,359.3 C453.98,355.92 455.35,351.32 456.6,347.5 C457.85,343.68 458.9,340.65 460,336.4 C461.1,332.15 462.17,327.57 463.2,322 C464.23,316.43 465.37,308.5 466.2,303 C467.03,297.5 467.57,293.65 468.2,289 C468.83,284.35 469.07,282.02 470,275.1 C470.93,268.18 472.71,255.02 473.75,247.5 C474.79,239.98 475.49,237.08 476.25,230 C477.01,222.92 477.69,213.33 478.3,205 C478.91,196.67 479.38,189.17 479.9,180 C480.42,170.83 480.92,159.17 481.4,150 C481.88,140.83 482.37,133.33 482.8,125 C483.23,116.67 483.58,108.33 484,100 C484.42,91.67 484.88,83.08 485.3,75 C485.72,66.92 486.3,55.42 486.5,51.5" stroke="#ff0000" stroke-width="2.9"/>
<path d="M441.3,140.3 C442.08,139.78 444.55,138.38 446,137.2 C447.45,136.02 448.67,134.77 450,133.2 C451.33,131.63 452.73,129.9 454,127.8 C455.27,125.7 456.53,123.15 457.6,120.6 C458.67,118.05 459.57,115.43 460.4,112.5 C461.23,109.57 461.9,106.33 462.6,103 C463.3,99.67 463.97,95.9 464.6,92.5 C465.23,89.1 465.78,85.92 466.4,82.6 C467.02,79.28 467.68,75.93 468.3,72.6 C468.92,69.27 469.8,64.27 470.1,62.6" stroke="#ff0000" stroke-width="2.9" stroke-dasharray="4.9 4.3"/>
<path d="M388.3,95.2 L504.2,200.6 L504.2,200.6 C505.42,200.03 508.93,198.3 511.5,197.2 C514.07,196.1 516.93,195.03 519.6,194 C522.27,192.97 524.83,191.95 527.5,191 C530.17,190.05 533.1,189.08 535.6,188.3 C538.1,187.52 540.22,186.77 542.5,186.3 C544.78,185.83 547.22,185.55 549.3,185.5 C551.38,185.45 553.1,185.65 555,186 C556.9,186.35 558.95,186.87 560.7,187.6 C562.45,188.33 563.98,189.3 565.5,190.4 C567.02,191.5 568.13,192.63 569.8,194.2 C571.47,195.77 573.6,197.93 575.5,199.8 C577.4,201.67 579.28,203.57 581.2,205.4 C583.12,207.23 585.1,209.1 587,210.8 C588.9,212.5 590.52,213.93 592.6,215.6 C594.68,217.27 597.22,219.2 599.5,220.8 C601.78,222.4 604.22,223.93 606.3,225.2 C608.38,226.47 610.12,227.43 612,228.4 C613.88,229.37 616.1,230.33 617.6,231 C619.1,231.67 619.88,232.07 621,232.4 C622.12,232.73 623.75,232.9 624.3,233 L624.3,233 C625.25,232.08 628.13,229.8 630,227.5 C631.87,225.2 633.87,222.37 635.5,219.2 C637.13,216.03 638.43,212.6 639.8,208.5 C641.17,204.4 642.53,199.18 643.7,194.6 C644.87,190.02 645.88,185.55 646.8,181 C647.72,176.45 648.42,171.88 649.2,167.3 C649.98,162.72 650.78,158.05 651.5,153.5 C652.22,148.95 652.83,145.58 653.5,140 C654.17,134.42 654.85,126.67 655.5,120 C656.15,113.33 656.78,107.5 657.4,100 C658.02,92.5 658.62,83.33 659.2,75 C659.78,66.67 660.32,58.33 660.9,50 C661.48,41.67 662.12,33.33 662.7,25 C663.28,16.67 664.12,4.17 664.4,0" stroke="#00a000" stroke-width="2.9"/>
<path d="M301.6,134.6 L414.2,236.9 L414.2,236.9 C415.67,236.27 419.53,234.58 423,233.1 C426.47,231.62 431.33,229.52 435,228 C438.67,226.48 441.67,225.3 445,224 C448.33,222.7 451.67,221.6 455,220.2 C458.33,218.8 461.67,217.1 465,215.6 C468.33,214.1 472.5,212.18 475,211.2 C477.5,210.22 478.17,210.15 480,209.7 C481.83,209.25 484,208.8 486,208.5 C488,208.2 490.17,208 492,207.9 C493.83,207.8 495.5,207.8 497,207.9 C498.5,208 499.67,208.15 501,208.5 C502.33,208.85 503.5,209.25 505,210 C506.5,210.75 508.33,211.9 510,213 C511.67,214.1 513.33,215.37 515,216.6 C516.67,217.83 517.92,218.63 520,220.4 C522.08,222.17 524.9,224.97 527.5,227.2 C530.1,229.43 533.1,231.73 535.6,233.8 C538.1,235.87 540.15,237.7 542.5,239.6 C544.85,241.5 548.5,244.27 549.7,245.2 L549.7,245.2 C550.58,245.17 552.95,245.07 555,245 C557.05,244.93 559.53,244.83 562,244.8 C564.47,244.77 567.13,244.73 569.8,244.8 C572.47,244.87 575.47,245.03 578,245.2 C580.53,245.37 582.57,245.57 585,245.8 C587.43,246.03 590.1,246.23 592.6,246.6 C595.1,246.97 597.77,247.5 600,248 C602.23,248.5 604,249.1 606,249.6 C608,250.1 611,250.77 612,251 L612,251 C612.7,248.5 614.78,240.83 616.2,236 C617.62,231.17 619.2,226.58 620.5,222 C621.8,217.42 622.87,213.07 624,208.5 C625.13,203.93 626.27,199.18 627.3,194.6 C628.33,190.02 629.28,185.55 630.2,181 C631.12,176.45 632.02,171.88 632.8,167.3 C633.58,162.72 634.22,158.05 634.9,153.5 C635.58,148.95 635.97,146.42 636.9,140 C637.83,133.58 639.22,125 640.5,115 C641.78,105 643.27,92.5 644.6,80 C645.93,67.5 647.28,53.33 648.5,40 C649.72,26.67 651.33,6.67 651.9,0" stroke="#0000ff" stroke-width="2.9"/>
<path d="M64,243.6 L596,0.96" stroke="#fff" stroke-width="4.2" stroke-dasharray="6.4 2.86" stroke-dashoffset="4.46" clip-path="url(#cb)"/>
<path d="M64,243.6 L596,0.96" stroke="#000" stroke-width="2.7" stroke-dasharray="4.9 4.36" stroke-dashoffset="3.71"/>
</g>
<g transform="translate(450,55) rotate(-26)" font-family="Liberation Serif" fill="#000"><text x="5.4" y="1.9" font-size="20" font-style="italic" text-anchor="middle">ρ</text><text x="24.7" y="3.3" font-size="23" text-anchor="middle" textLength="15" lengthAdjust="spacingAndGlyphs">=</text><text x="45.4" y="1.7" font-size="20" font-style="italic" text-anchor="middle">ρ</text><text x="67.2" y="5.0" font-size="16.6" text-anchor="middle">local</text></g>
<rect x="80.3" y="4.9" width="123.6" height="61.1" fill="#000"/>
<path d="M82,6.6 H202.4 V64.5 H82" stroke="#3a3a3a" stroke-width="1" fill="none"/>
<path d="M202.4,6.2 V64.5 H81" stroke="#d0d0d0" stroke-width="1.1" fill="none"/>
<g font-family="Liberation Serif" fill="#b4b4b4">
<text x="91" y="29.4" font-size="20" font-style="italic" textLength="24" lengthAdjust="spacingAndGlyphs">δα</text>
<rect x="89.2" y="37.3" width="27.5" height="1.3" fill="#d0d0d0"/>
<text x="96" y="58.6" font-size="20" font-style="italic" textLength="14" lengthAdjust="spacingAndGlyphs">α</text>
<text x="122.5" y="45" font-size="24" textLength="18" lengthAdjust="spacingAndGlyphs">=</text>
<text x="148" y="44.8" font-size="23.5" textLength="20" lengthAdjust="spacingAndGlyphs">10</text>
<rect x="169" y="28.8" width="11.3" height="1.3" fill="#d0d0d0"/>
<text x="181.3" y="35.1" font-size="16" textLength="15" lengthAdjust="spacingAndGlyphs">18</text>
</g>
<path d="M125.1,5.7 V13 M185.2,5.7 V13" stroke="#c8c8c8" stroke-width="1.1"/>
<path d="M63.5,0.5 V385.2 H684 V0.5" stroke="#a8a8a8" stroke-width="1.2" fill="none"/>
<path d="M63.5,385.2 H684" stroke="#cfcfcf" stroke-width="1.4" fill="none"/>
<path d="M63.5,0.5 H684" stroke="#555" stroke-width="1" fill="none"/>
<path d="M63.5,0.5 V219.8 M684,0.5 V148" stroke="#777" stroke-width="1.2" fill="none"/>
<g font-family="Liberation Sans" fill="#707070" stroke="#dadada" stroke-width="0.45">
<text x="106.9" y="404" font-size="16.5" textLength="15" lengthAdjust="spacingAndGlyphs">10</text>
<rect x="122.3" y="393.6" width="7.2" height="1" stroke="none"/>
<text x="130" y="398.2" font-size="12.5" textLength="11" lengthAdjust="spacingAndGlyphs">16</text>
<text x="227.1" y="404" font-size="16.5" textLength="15" lengthAdjust="spacingAndGlyphs">10</text>
<rect x="242.5" y="393.6" width="7.2" height="1" stroke="none"/>
<text x="250.2" y="398.2" font-size="12.5" textLength="11" lengthAdjust="spacingAndGlyphs">14</text>
<text x="347.3" y="404" font-size="16.5" textLength="15" lengthAdjust="spacingAndGlyphs">10</text>
<rect x="362.7" y="393.6" width="7.2" height="1" stroke="none"/>
<text x="370.4" y="398.2" font-size="12.5" textLength="11" lengthAdjust="spacingAndGlyphs">12</text>
<text x="467.5" y="404" font-size="16.5" textLength="15" lengthAdjust="spacingAndGlyphs">10</text>
<rect x="482.9" y="393.6" width="7.2" height="1" stroke="none"/>
<text x="490.6" y="398.2" font-size="12.5" textLength="11" lengthAdjust="spacingAndGlyphs">10</text>
<text x="590.9" y="404" font-size="16.5" textLength="15" lengthAdjust="spacingAndGlyphs">10</text>
<rect x="606.3" y="393.6" width="7.2" height="1" stroke="none"/>
<text x="614" y="398.2" font-size="12.5" textLength="6.2" lengthAdjust="spacingAndGlyphs">8</text>
<text x="31" y="363.57" font-size="16.5" textLength="15" lengthAdjust="spacingAndGlyphs">10</text>
<rect x="46.3" y="353.37" width="7.3" height="1" stroke="none"/>
<text x="53.6" y="357.37" font-size="12.5" textLength="5.2" lengthAdjust="spacingAndGlyphs">9</text>
<text x="31" y="308.71" font-size="16.5" textLength="15" lengthAdjust="spacingAndGlyphs">10</text>
<rect x="46.3" y="298.51" width="7.3" height="1" stroke="none"/>
<text x="53.6" y="302.51" font-size="12.5" textLength="5.2" lengthAdjust="spacingAndGlyphs">7</text>
<text x="31" y="253.85" font-size="16.5" textLength="15" lengthAdjust="spacingAndGlyphs">10</text>
<rect x="46.3" y="243.65" width="7.3" height="1" stroke="none"/>
<text x="53.6" y="247.65" font-size="12.5" textLength="5.2" lengthAdjust="spacingAndGlyphs">5</text>
<text x="31" y="198.99" font-size="16.5" textLength="15" lengthAdjust="spacingAndGlyphs">10</text>
<rect x="46.3" y="188.79" width="7.3" height="1" stroke="none"/>
<text x="53.6" y="192.79" font-size="12.5" textLength="5.2" lengthAdjust="spacingAndGlyphs">3</text>
<text x="31" y="144.13" font-size="16.5" textLength="15" lengthAdjust="spacingAndGlyphs">10</text>
<rect x="46.3" y="133.93" width="7.3" height="1" stroke="none"/>
<text x="53.6" y="137.93" font-size="12.5" textLength="5.2" lengthAdjust="spacingAndGlyphs">1</text>
<text x="37.2" y="89.47" font-size="16.5" textLength="15.3" lengthAdjust="spacingAndGlyphs">10</text>
<text x="53.2" y="83.07" font-size="12.5" textLength="5.4" lengthAdjust="spacingAndGlyphs">1</text>
<text x="37.2" y="34.61" font-size="16.5" textLength="15.3" lengthAdjust="spacingAndGlyphs">10</text>
<text x="53.2" y="28.21" font-size="12.5" textLength="5.4" lengthAdjust="spacingAndGlyphs">3</text>
</g>
<g font-family="Liberation Serif" fill="#8c8c8c" stroke="#dcdcdc" stroke-width="0.4">
<text x="339.5" y="432.2" font-size="21" font-style="italic" textLength="18.5" lengthAdjust="spacingAndGlyphs">m</text>
<text x="357.5" y="434.5" font-size="15" font-style="italic" textLength="9.5" lengthAdjust="spacingAndGlyphs">ϕ</text>
<text x="375.3" y="432.4" font-size="22" textLength="31.5" lengthAdjust="spacingAndGlyphs">[eV]</text>
<g transform="translate(16.5,204) rotate(-90)"><text x="0" y="0" font-size="24" font-style="italic">d</text><text x="12.5" y="3" font-size="17" font-style="italic">e</text></g>
</g>
</svg>
</body></html>
